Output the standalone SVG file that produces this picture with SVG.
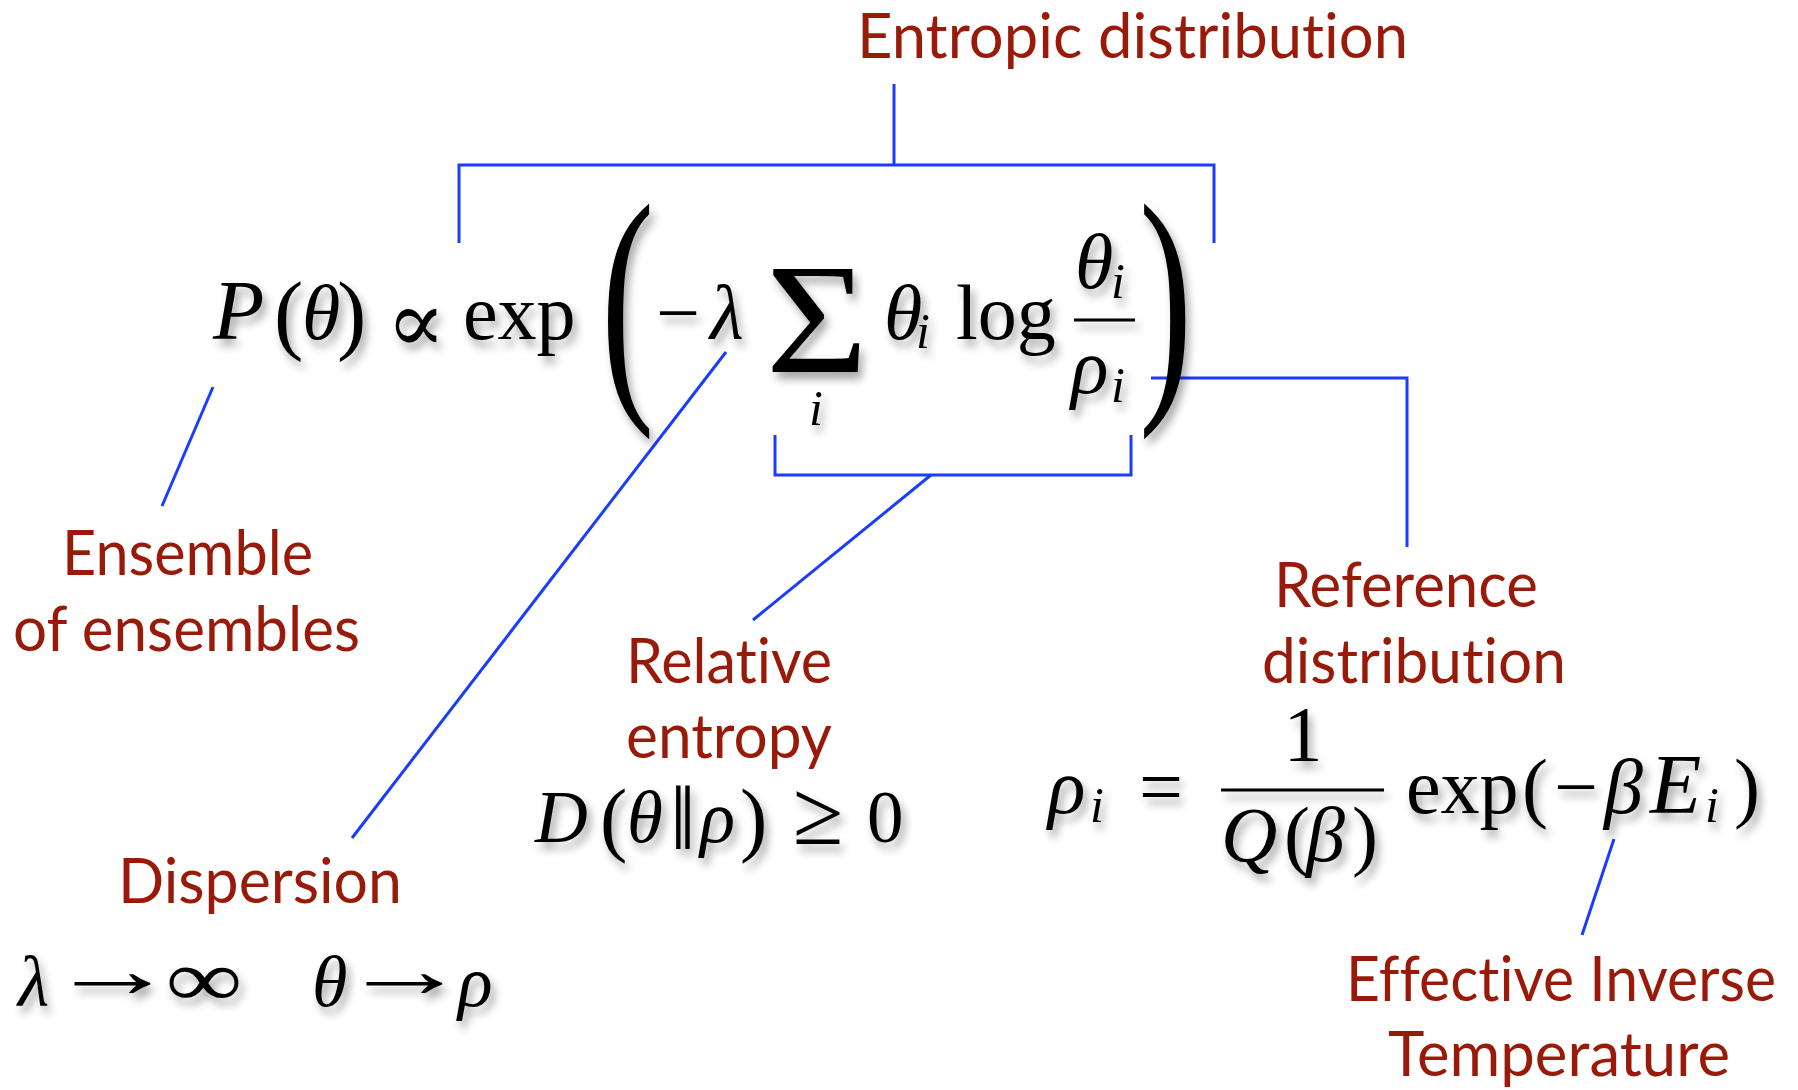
<svg xmlns="http://www.w3.org/2000/svg" width="1798" height="1090" viewBox="0 0 1798 1090">
<defs>
<filter id="sh" x="-20%" y="-20%" width="140%" height="140%">
<feDropShadow dx="4" dy="7" stdDeviation="4" flood-color="#000" flood-opacity="0.35"/>
</filter>
<style>
.lbl{font-family:Lato,"Open Sans","Liberation Sans",sans-serif;font-size:62px;fill:#9A1A0A;font-variant-ligatures:none;}
.m{font-family:"Liberation Serif","DejaVu Serif",serif;font-size:78px;fill:#000;}
.it{font-style:italic;}
.sub{font-family:"Liberation Serif","DejaVu Serif",serif;font-size:50px;font-style:italic;fill:#000;}
.eq{filter:url(#sh);}
.conn{fill:none;stroke:#1A3CFF;stroke-width:3;}
</style>
</defs>
<rect width="1798" height="1090" fill="#fff"/>

<g id="connectors" class="conn">
<path d="M894 84 V165"/>
<path d="M459 243 V165 H1214 V243"/>
<path d="M213 387 L162 506"/>
<path d="M726 352 L352 838"/>
<path d="M775 435 V475 H1131 V435"/>
<path d="M931 475 L753 620"/>
<path d="M1151 378 H1407 V547"/>
<path d="M1614 839 L1582 935"/>
</g>

<g id="main-equation" class="eq">
<text class="m it" x="213" y="339" style="font-size:84px">P</text>
<text class="m" x="274" y="343" style="font-size:88px">(</text>
<text class="m it" x="302" y="339">θ</text>
<text class="m" x="337" y="343" style="font-size:88px">)</text>
<text class="m" x="416" y="352" text-anchor="middle" style="font-size:88px">∝</text>
<text class="m" x="463" y="339">exp</text>
<text class="m" transform="translate(601,384) scale(1.6,2.6)" style="font-size:100px">(</text>
<text class="m" x="678" y="339" text-anchor="middle">−</text>
<text class="m it" x="710" y="339">λ</text>
<text class="m" transform="translate(817,372) scale(1.12,1)" text-anchor="middle" style="font-size:157px">Σ</text>
<text class="sub" x="816" y="425" text-anchor="middle">i</text>
<text class="m it" x="884" y="339">θ</text>
<text class="sub" x="916" y="348">i</text>
<text class="m" x="956" y="339">log</text>
<text class="m it" x="1075" y="288">θ</text>
<text class="sub" x="1111" y="298">i</text>
<line x1="1074" y1="320" x2="1135" y2="320" stroke="#000" stroke-width="3"/>
<text class="m it" x="1071" y="393">ρ</text>
<text class="sub" x="1111" y="402">i</text>
<text class="m" transform="translate(1139,384) scale(1.6,2.6)" style="font-size:100px">)</text>
</g>

<g id="entropic-distribution">
<text class="lbl" x="857" y="58" textLength="551" lengthAdjust="spacingAndGlyphs">Entropic distribution</text>
</g>

<g id="ensemble-of-ensembles">
<text class="lbl" x="62" y="575" textLength="251" lengthAdjust="spacingAndGlyphs">Ensemble</text>
<text class="lbl" x="13" y="651" textLength="347" lengthAdjust="spacingAndGlyphs">of ensembles</text>
</g>

<g id="relative-entropy">
<text class="lbl" x="626" y="683" textLength="206" lengthAdjust="spacingAndGlyphs">Relative</text>
<text class="lbl" x="626" y="758" textLength="206" lengthAdjust="spacingAndGlyphs">entropy</text>
<g class="eq">
<text class="m it" x="535" y="842" style="font-size:73px">D</text>
<text class="m" x="600" y="846" style="font-size:82px">(</text>
<text class="m it" x="627" y="842" style="font-size:73px">θ</text>
<text class="m" x="683" y="849" text-anchor="middle" style="font-size:92px">‖</text>
<text class="m it" x="700" y="842" style="font-size:73px">ρ</text>
<text class="m" x="740" y="846" style="font-size:82px">)</text>
<text class="m" x="818" y="844" text-anchor="middle" style="font-size:92px">≥</text>
<text class="m" x="867" y="842" style="font-size:73px">0</text>
</g>
</g>

<g id="dispersion">
<text class="lbl" x="118" y="903" textLength="284" lengthAdjust="spacingAndGlyphs">Dispersion</text>
<g class="eq">
<text class="m it" x="18" y="1006" style="font-size:72px">λ</text>
<text class="m" transform="translate(112,997) scale(1.6,1)" text-anchor="middle" style="font-size:80px">→</text>
<text class="m" transform="translate(204,1006) scale(1.35,1)" text-anchor="middle" style="font-size:80px">∞</text>
<text class="m it" x="312" y="1006" style="font-size:72px">θ</text>
<text class="m" transform="translate(404,997) scale(1.6,1)" text-anchor="middle" style="font-size:80px">→</text>
<text class="m it" x="458" y="1006" style="font-size:72px">ρ</text>
</g>
</g>

<g id="reference-distribution">
<text class="lbl" x="1274" y="607" textLength="264" lengthAdjust="spacingAndGlyphs">Reference</text>
<text class="lbl" x="1262" y="683" textLength="304" lengthAdjust="spacingAndGlyphs">distribution</text>
<g class="eq">
<text class="m it" x="1048" y="813">ρ</text>
<text class="sub" x="1090" y="822">i</text>
<text class="m" x="1161" y="813" text-anchor="middle">=</text>
<text class="m" x="1303" y="760" text-anchor="middle">1</text>
<line x1="1221" y1="790" x2="1384" y2="790" stroke="#000" stroke-width="3"/>
<text class="m it" x="1221" y="861">Q</text>
<text class="m" x="1284" y="861">(</text>
<text class="m it" x="1306" y="861">β</text>
<text class="m" x="1352" y="861">)</text>
<text class="m" x="1406" y="813">exp</text>
<text class="m" x="1522" y="813">(</text>
<text class="m" x="1576" y="813" text-anchor="middle">−</text>
<text class="m it" x="1604" y="813">β</text>
<text class="m it" x="1650" y="813" style="font-size:84px">E</text>
<text class="sub" x="1705" y="822">i</text>
<text class="m" x="1734" y="813">)</text>
</g>
</g>

<g id="effective-inverse-temperature">
<text class="lbl" x="1346" y="1001" textLength="430" lengthAdjust="spacingAndGlyphs">Effective Inverse</text>
<text class="lbl" x="1388" y="1076" textLength="342" lengthAdjust="spacingAndGlyphs">Temperature</text>
</g>
</svg>
